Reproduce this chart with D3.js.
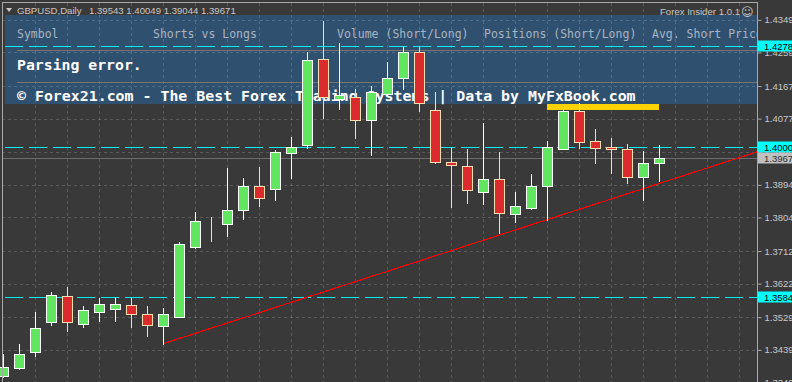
<!DOCTYPE html>
<html>
<head>
<meta charset="utf-8">
<script src="https://cdn.jsdelivr.net/npm/d3@7"></script>
<style>
  html, body { margin: 0; padding: 0; background: #393939; overflow: hidden; }
  svg { display: block; }
</style>
</head>
<body>
<div id="chart"></div>
<script>
// --- chart data ---
const symbolTitle = "GBPUSD,Daily";
const lastBarText = ["1.39543", "1.40049", "1.39044", "1.39671"];
const indicatorName = "Forex Insider 1.0.1";

const opens = [
  1.33672, 1.33900, 1.34325, 1.35153, 1.35870, 1.35097, 1.35428, 1.35528, 1.35621, 1.35373,
  1.35042, 1.35313, 1.37238, 1.37883, 1.37872, 1.38258, 1.38912, 1.38837, 1.39814, 1.40034,
  1.42414, 1.41303, 1.41358, 1.40724, 1.41441, 1.41882, 1.42599, 1.41000, 1.39565, 1.39455,
  1.38755, 1.39096, 1.38131, 1.38313, 1.38903, 1.39946, 1.40972, 1.40145, 1.39979, 1.39924,
  1.39152, 1.39543
];
const highs = [
  1.34278, 1.34554, 1.35437, 1.35980, 1.36126, 1.35602, 1.35831, 1.35859, 1.35831, 1.35602,
  1.35547, 1.37367, 1.38195, 1.38057, 1.39408, 1.39132, 1.39436, 1.39905, 1.40263, 1.42607,
  1.43471, 1.42847, 1.41579, 1.41661, 1.42323, 1.42765, 1.42765, 1.41496, 1.39979, 1.39924,
  1.40649, 1.39849, 1.38738, 1.39234, 1.40153, 1.41035, 1.41201, 1.40475, 1.40236, 1.40070,
  1.39869, 1.40049
];
const lows = [
  1.33644, 1.33865, 1.34231, 1.35086, 1.34921, 1.35031, 1.35197, 1.35197, 1.35031, 1.34783,
  1.34562, 1.35299, 1.37210, 1.37403, 1.37541, 1.38010, 1.38368, 1.38534, 1.39141, 1.39951,
  1.40795, 1.41044, 1.40227, 1.39775, 1.41435, 1.41579, 1.40989, 1.39538, 1.38341, 1.38451,
  1.38424, 1.37624, 1.37927, 1.38286, 1.37982, 1.39924, 1.39951, 1.39554, 1.39279, 1.39003,
  1.38534, 1.39044
];
const closes = [
  1.33920, 1.34270, 1.34987, 1.35897, 1.35153, 1.35484, 1.35649, 1.35649, 1.35373, 1.35070,
  1.35373, 1.37304, 1.37946, 1.37883, 1.38250, 1.38912, 1.38589, 1.39849, 1.39987, 1.42387,
  1.41358, 1.41413, 1.40724, 1.41496, 1.41882, 1.42599, 1.41193, 1.39565, 1.39483, 1.38793,
  1.39096, 1.38159, 1.38352, 1.38903, 1.39979, 1.40972, 1.40117, 1.39951, 1.39924, 1.39152,
  1.39538, 1.39671
];

const priceTicks = [1.43495, 1.42595, 1.41670, 1.40770, 1.39860, 1.38945, 1.38045,
                    1.37120, 1.36220, 1.35295, 1.34395, 1.33490];
const levelLines = [1.42781, 1.40000, 1.35846];   // cyan horizontal lines
const bidPrice = 1.39671;
const trendAnchors = [10, 34];                      // trend line through these bars' lows
const highlightBars = [34, 41];                     // yellow bar under the panel

const panelColumns = ["Symbol", "Shorts vs Longs", "Volume (Short/Long)",
                      "Positions (Short/Long)", "Avg. Short Price"];
const panelMessage = "Parsing error.";
const panelCredit = "© Forex21.com - The Best Forex Trading Systems | Data by MyFxBook.com";

// --- layout ---
const width = 792, height = 382;
const plotRight = 757;
const columnX = [17, 153, 337, 484, 652];

const bg = "#393939";
const upFill = "#62e662", downFill = "#da2c2c";
const upLine = "#ffffff", downLine = "#f5deb3";
const cyan = "#00f0ff";

const x = d3.scaleLinear().domain([0, opens.length - 1]).range([3, 659]);
const y = d3.scaleLinear().domain([1.3439, 1.4349]).range([350, 20]);
const fmt = d3.format(".5f");
const px = v => Math.round(v) + 0.5;

const svg = d3.create("svg")
    .attr("width", width)
    .attr("height", height)
    .attr("viewBox", [0, 0, width, height])
    .style("background", bg);

svg.append("clipPath").attr("id", "plot")
  .append("rect").attr("x", 0).attr("y", 0).attr("width", plotRight).attr("height", height);

const plot = svg.append("g").attr("clip-path", "url(#plot)");

// info panel
plot.append("rect")
    .attr("x", 5).attr("y", 15)
    .attr("width", plotRight - 5).attr("height", 89)
    .attr("fill", "#30506f");

// grid (translucent so it also shows over the panel)
const grid = plot.append("g")
    .attr("stroke", "#ffffff")
    .attr("stroke-opacity", 0.17)
    .attr("stroke-dasharray", "3,3")
    .attr("shape-rendering", "crispEdges");
grid.selectAll("line.h")
  .data(priceTicks)
  .join("line")
    .attr("class", "h")
    .attr("x1", 2).attr("x2", plotRight)
    .attr("y1", d => px(y(d))).attr("y2", d => px(y(d)));
grid.selectAll("line.v")
  .data(d3.range(2, 47, 2))
  .join("line")
    .attr("class", "v")
    .attr("x1", d => px(x(d))).attr("x2", d => px(x(d)))
    .attr("y1", 3).attr("y2", height);

// panel separators and texts
plot.append("g")
    .attr("stroke", "#757575")
    .attr("shape-rendering", "crispEdges")
  .selectAll("line")
  .data([50, 82])
  .join("line")
    .attr("x1", 17).attr("x2", plotRight)
    .attr("y1", d => d + 0.5).attr("y2", d => d + 0.5);

plot.append("g")
    .attr("font-family", "DejaVu Sans Mono, monospace")
    .attr("font-size", 11.5)
    .attr("fill", "#a7b5c4")
  .selectAll("text")
  .data(panelColumns)
  .join("text")
    .attr("x", (d, i) => columnX[i])
    .attr("y", 38)
    .text(d => d);

plot.append("text")
    .attr("x", 17).attr("y", 70)
    .attr("font-family", "DejaVu Sans Mono, monospace")
    .attr("font-size", 14.8).attr("font-weight", "bold")
    .attr("fill", "#ffffff")
    .text(panelMessage);

plot.append("text")
    .attr("x", 17).attr("y", 101)
    .attr("font-family", "DejaVu Sans Mono, monospace")
    .attr("font-size", 14.9).attr("font-weight", "bold")
    .attr("fill", "#ffffff")
    .text(panelCredit);

// yellow highlight
plot.append("rect")
    .attr("x", x(highlightBars[0])).attr("y", 104)
    .attr("width", x(highlightBars[1]) - x(highlightBars[0]))
    .attr("height", 6)
    .attr("fill", "#ffd200");

// horizontal levels
plot.append("g")
    .attr("stroke", cyan)
    .attr("stroke-dasharray", "18,6")
    .attr("shape-rendering", "crispEdges")
  .selectAll("line")
  .data(levelLines)
  .join("line")
    .attr("x1", 5).attr("x2", plotRight)
    .attr("y1", d => px(y(d))).attr("y2", d => px(y(d)));

plot.append("line")
    .attr("x1", 2).attr("x2", plotRight)
    .attr("y1", px(y(bidPrice))).attr("y2", px(y(bidPrice)))
    .attr("stroke", "#6c6c6c")
    .attr("shape-rendering", "crispEdges");

// trend line: through two lows, extended to the right edge
const [ta, tb] = trendAnchors;
const slope = (lows[tb] - lows[ta]) / (tb - ta);
const tEnd = x.invert(plotRight);
plot.append("line")
    .attr("x1", x(ta)).attr("y1", y(lows[ta]))
    .attr("x2", x(tEnd)).attr("y2", y(lows[ta] + slope * (tEnd - ta)))
    .attr("stroke", "#ff0000")
    .attr("stroke-width", 1.2)
    .attr("shape-rendering", "crispEdges");

// candles
const I = d3.range(opens.length);
const up = i => closes[i] > opens[i];
const candle = plot.append("g")
  .selectAll("g")
  .data(I)
  .join("g");

candle.append("line")
    .attr("x1", i => px(x(i))).attr("x2", i => px(x(i)))
    .attr("y1", i => Math.round(y(highs[i])))
    .attr("y2", i => Math.round(y(lows[i])) + 1)
    .attr("stroke", i => up(i) ? upLine : downLine)
    .attr("shape-rendering", "crispEdges");

candle.append("rect")
    .attr("x", i => Math.round(x(i)) - 5 + 0.5)
    .attr("y", i => Math.round(y(Math.max(opens[i], closes[i]))) + 0.5)
    .attr("width", 10)
    .attr("height", i => Math.max(0, Math.round(y(Math.min(opens[i], closes[i]))) - Math.round(y(Math.max(opens[i], closes[i])))))
    .attr("fill", i => up(i) ? upFill : downFill)
    .attr("stroke", i => up(i) ? upLine : downLine)
    .attr("stroke-width", 1)
    .attr("shape-rendering", "crispEdges");

// frame
svg.append("path")
    .attr("d", `M2.5,${height} V2.5 H${plotRight + 0.5} V${height}`)
    .attr("fill", "none")
    .attr("stroke", "#a8a8a8")
    .attr("shape-rendering", "crispEdges");

// title row
svg.append("path")
    .attr("d", "M6,8 L12,8 L9,12 Z")
    .attr("fill", "#c8c8c8");
const title = svg.append("g")
    .attr("font-family", "Liberation Sans, Arial, sans-serif")
    .attr("font-size", 9.6)
    .attr("fill", "#c8c8c8");
title.append("text").attr("x", 17).attr("y", 14).text(symbolTitle);
title.append("text").attr("x", 89).attr("y", 14).text(lastBarText.join(" "));
title.append("text").attr("x", 740).attr("y", 15).attr("text-anchor", "end").text(indicatorName);
title.append("text").attr("x", 741).attr("y", 16)
    .attr("font-family", "DejaVu Sans, sans-serif").attr("font-size", 12).text("☺");

// price axis
svg.append("g")
    .attr("transform", `translate(${plotRight + 0.5},0)`)
    .call(d3.axisRight(y).tickValues(priceTicks).tickFormat(fmt).tickSize(4).tickPadding(3))
    .call(g => g.select(".domain").remove())
    .call(g => g.selectAll(".tick line").attr("stroke", "#a8a8a8"))
    .call(g => g.selectAll(".tick text")
        .attr("fill", "#c8c8c8")
        .attr("font-family", "Liberation Sans, Arial, sans-serif")
        .attr("font-size", 9.5));

// price tags on the axis
const tags = levelLines.map(v => ({v, fill: "#00ffff", text: "#000000"}))
    .concat([{v: bidPrice, fill: "#c0c0c0", text: "#303030"}]);
const tag = svg.append("g")
  .selectAll("g")
  .data(tags)
  .join("g")
    .attr("transform", d => `translate(${plotRight + 1},${Math.round(y(d.v))})`);
tag.append("rect")
    .attr("x", 0).attr("y", -5.5)
    .attr("width", width - plotRight).attr("height", 11)
    .attr("fill", d => d.fill);
tag.append("text")
    .attr("x", 6).attr("y", 3.5)
    .attr("font-family", "Liberation Sans, Arial, sans-serif")
    .attr("font-size", 9.5)
    .attr("fill", d => d.text)
    .text(d => fmt(d.v));

d3.select("#chart").node().appendChild(svg.node());
</script>
</body>
</html>
